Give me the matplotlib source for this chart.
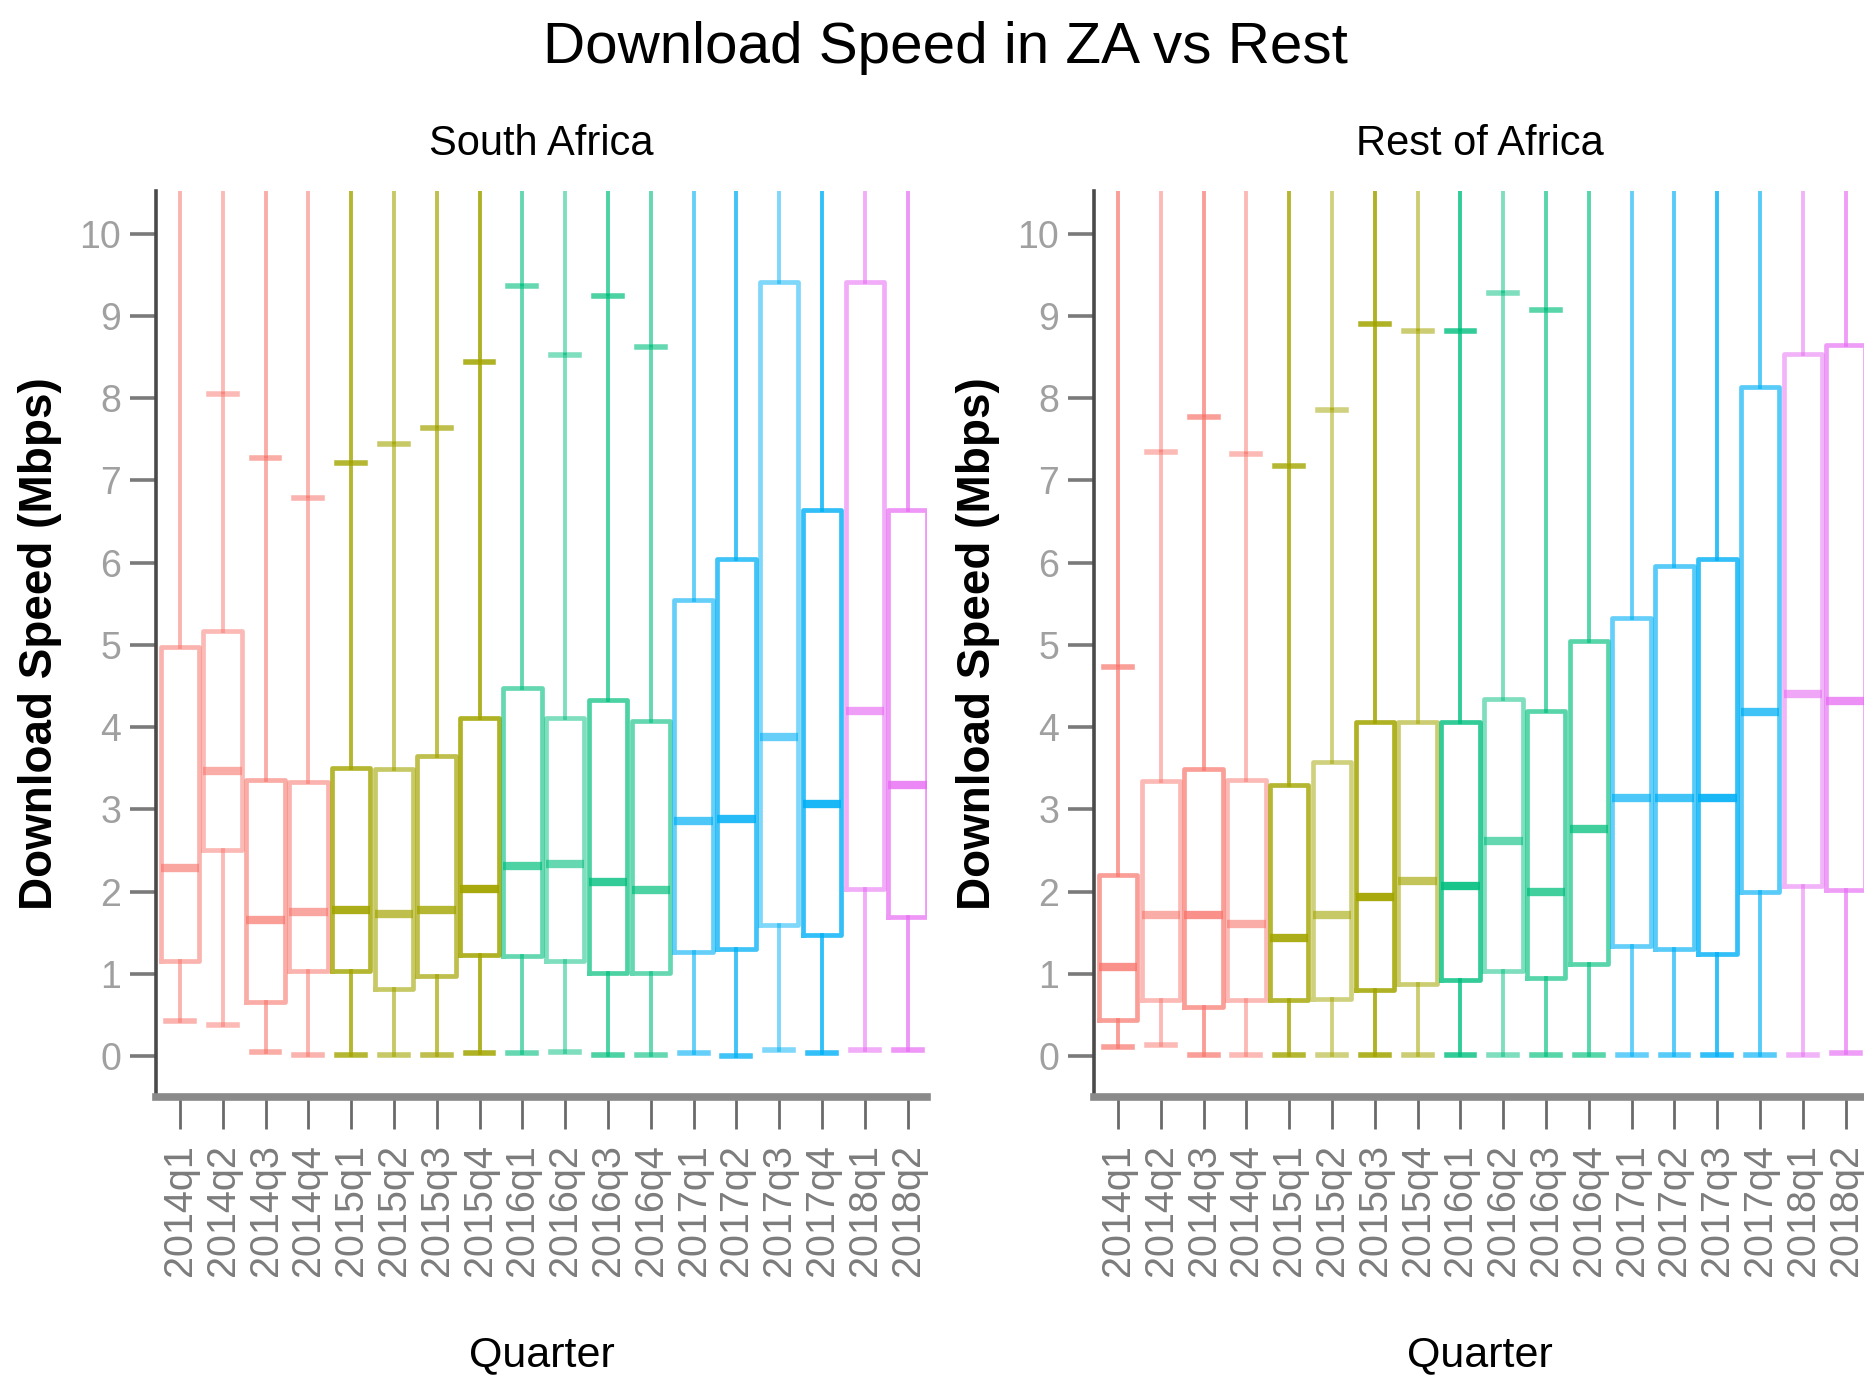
# boxplots de velocidade de download: Africa do Sul vs resto de Africa
import matplotlib
matplotlib.use('Agg')
import matplotlib.pyplot as plt

quarters = ['2014q1', '2014q2', '2014q3', '2014q4',
            '2015q1', '2015q2', '2015q3', '2015q4',
            '2016q1', '2016q2', '2016q3', '2016q4',
            '2017q1', '2017q2', '2017q3', '2017q4',
            '2018q1', '2018q2']
year_colors = {'2014': '#F8766D', '2015': '#A3A500', '2016': '#00BF7D',
               '2017': '#00B0F6', '2018': '#E76BF3'}

# South Africa
sa_q1 = [1.15, 2.51, 0.66, 1.03, 1.03, 0.82, 0.97, 1.23, 1.21, 1.15, 1.01, 1.01,
         1.26, 1.30, 1.59, 1.47, 2.03, 1.69]
sa_med = [2.29, 3.47, 1.65, 1.75, 1.78, 1.73, 1.78, 2.03, 2.31, 2.34, 2.11, 2.02,
          2.86, 2.88, 3.88, 3.06, 4.20, 3.30]
sa_q3 = [4.97, 5.17, 3.36, 3.33, 3.50, 3.49, 3.65, 4.11, 4.48, 4.11, 4.33, 4.07,
         5.54, 6.05, 9.41, 6.64, 9.41, 6.64]
sa_lo = [0.42, 0.38, 0.05, 0.01, 0.01, 0.01, 0.01, 0.04, 0.04, 0.05, 0.01, 0.01,
         0.03, 0.00, 0.07, 0.04, 0.07, 0.07]
sa_hi = [11.0, 8.05, 7.27, 6.78, 7.21, 7.44, 7.64, 8.44, 9.36, 8.53, 9.24, 8.62,
         11.0, 11.0, 11.0, 11.0, 11.0, 11.0]
sa_alpha = [0.55, 0.5, 0.6, 0.55, 0.8, 0.6, 0.7, 0.85, 0.6, 0.5, 0.7, 0.6,
            0.6, 0.75, 0.5, 0.8, 0.55, 0.7]

# Rest of Africa
ra_q1 = [0.44, 0.68, 0.60, 0.68, 0.68, 0.69, 0.80, 0.88, 0.92, 1.03, 0.95, 1.12,
         1.34, 1.30, 1.24, 1.99, 2.07, 2.02]
ra_med = [1.08, 1.71, 1.71, 1.60, 1.43, 1.71, 1.93, 2.13, 2.07, 2.61, 2.00, 2.76,
          3.14, 3.14, 3.14, 4.18, 4.40, 4.32]
ra_q3 = [2.20, 3.35, 3.49, 3.36, 3.29, 3.57, 4.06, 4.06, 4.06, 4.34, 4.19, 5.05,
         5.33, 5.96, 6.04, 8.14, 8.54, 8.65]
ra_lo = [0.11, 0.13, 0.01, 0.01, 0.01, 0.01, 0.01, 0.01, 0.01, 0.01, 0.01, 0.01,
         0.01, 0.01, 0.01, 0.01, 0.01, 0.04]
ra_hi = [4.73, 7.35, 7.77, 7.32, 7.18, 7.86, 8.90, 8.82, 8.82, 9.28, 9.07, 11.0,
         11.0, 11.0, 11.0, 11.0, 11.0, 11.0]
ra_alpha = [0.7, 0.5, 0.7, 0.5, 0.8, 0.5, 0.85, 0.55, 0.8, 0.5, 0.65, 0.65,
            0.6, 0.65, 0.8, 0.65, 0.5, 0.65]

outlier_max = 11.0  # pontos extremos acima do limite do eixo

plt.rcParams['font.family'] = ['Liberation Sans', 'DejaVu Sans']

fig = plt.figure(figsize=(18.65, 13.77), dpi=100)
fig.patch.set_facecolor('white')


def plot_painel(ax, q1, med, q3, lo, hi, alphas, titulo):
    for i, q in enumerate(quarters):
        cor = year_colors[q[:4]]
        a = alphas[i]
        st = dict(q1=q1[i], med=med[i], q3=q3[i], whislo=lo[i], whishi=hi[i], fliers=[])
        ax.bxp([st], positions=[i], widths=0.9, capwidths=0.65, showfliers=False,
               boxprops=dict(color=cor, alpha=a, lw=3.4),
               medianprops=dict(color=cor, alpha=min(1.0, a + 0.1), lw=6),
               whiskerprops=dict(color=cor, alpha=a, lw=2.8),
               capprops=dict(color=cor, alpha=a, lw=4))
        if hi[i] < outlier_max:
            ax.vlines(i, hi[i], outlier_max, color=cor, alpha=a, lw=2.8)

    ax.set_xlim(-0.56, 17.45)
    ax.set_ylim(-0.5, 10.52)
    ax.set_yticks(range(0, 11))
    ax.set_xticks(range(len(quarters)))
    ax.set_xticklabels(quarters, rotation=90, fontsize=28.5, color='#7c7c7c')
    for lab in ax.get_yticklabels():
        lab.set_fontsize(27)
        lab.set_color('#a0a0a0')
    ax.tick_params(axis='y', length=19, width=2.6, color='#7a7a7a', pad=6)
    ax.tick_params(axis='x', length=23, width=2.0, color='#6a6a6a', pad=11)
    for s in ['top', 'right']:
        ax.spines[s].set_visible(False)
    ax.spines['left'].set_color('#4a4a4a')
    ax.spines['left'].set_linewidth(2.6)
    ax.spines['bottom'].set_color('#8a8a8a')
    ax.spines['bottom'].set_linewidth(5.5)

    ax.text(0.5, 1.052, titulo, transform=ax.transAxes, ha='center', va='center',
            fontsize=30)
    ax.text(0.5, -0.285, 'Quarter', transform=ax.transAxes, ha='center', va='center',
            fontsize=31)
    ax.text(-0.15, 0.5, 'Download Speed (Mbps)', transform=ax.transAxes, rotation=90,
            ha='center', va='center', fontsize=33, fontweight='bold')


ax1 = fig.add_axes([0.0836, 0.2033, 0.4134, 0.658])
plot_painel(ax1, sa_q1, sa_med, sa_q3, sa_lo, sa_hi, sa_alpha, 'South Africa')

ax2 = fig.add_axes([0.5866, 0.2033, 0.4134, 0.658])
plot_painel(ax2, ra_q1, ra_med, ra_q3, ra_lo, ra_hi, ra_alpha, 'Rest of Africa')

fig.text(0.507, 0.965, 'Download Speed in ZA vs Rest', ha='center', va='center',
         fontsize=42)

fig.savefig('out.png', dpi=100)
